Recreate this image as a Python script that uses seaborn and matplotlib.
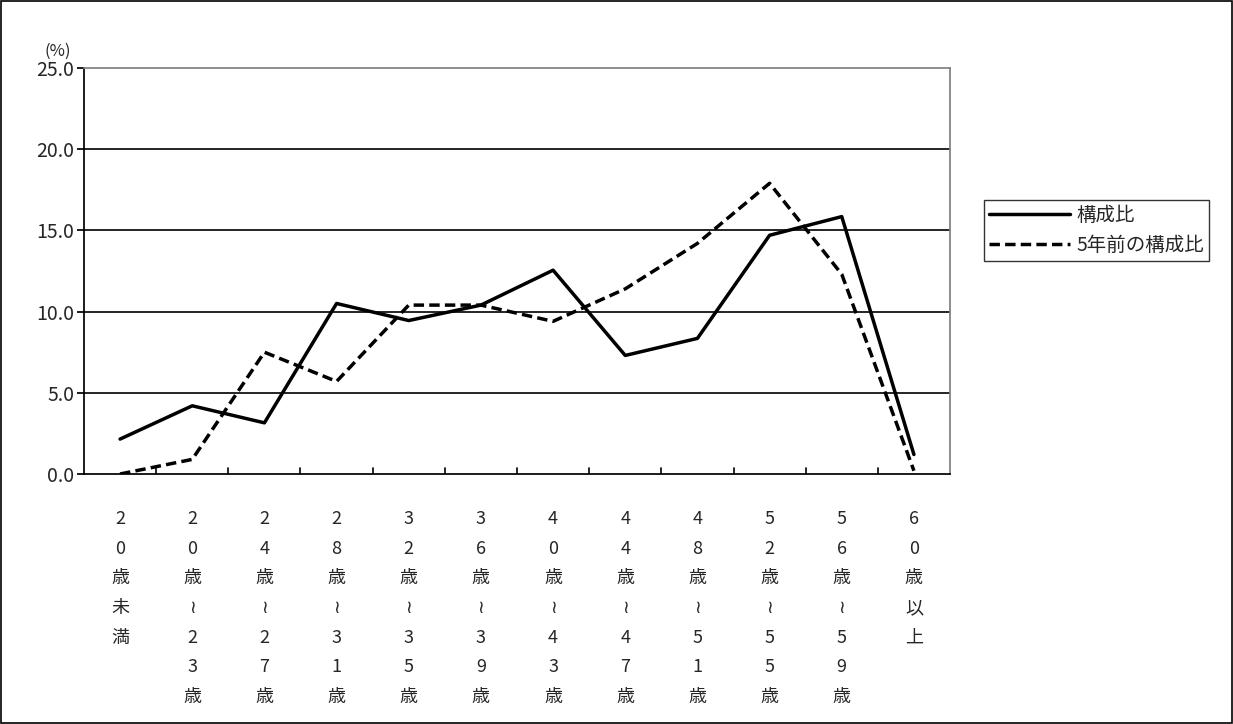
import matplotlib
matplotlib.use("Agg")
import matplotlib.pyplot as plt
import seaborn as sns
import pandas as pd

categories = ["20歳未満", "20歳〜23歳", "24歳〜27歳", "28歳〜31歳", "32歳〜35歳", "36歳〜39歳",
              "40歳〜43歳", "44歳〜47歳", "48歳〜51歳", "52歳〜55歳", "56歳〜59歳", "60歳以上"]
tick_labels = ["2\n0\n歳\n未\n満", "2\n0\n歳\n≀\n2\n3\n歳", "2\n4\n歳\n≀\n2\n7\n歳", "2\n8\n歳\n≀\n3\n1\n歳",
               "3\n2\n歳\n≀\n3\n5\n歳", "3\n6\n歳\n≀\n3\n9\n歳", "4\n0\n歳\n≀\n4\n3\n歳", "4\n4\n歳\n≀\n4\n7\n歳",
               "4\n8\n歳\n≀\n5\n1\n歳", "5\n2\n歳\n≀\n5\n5\n歳", "5\n6\n歳\n≀\n5\n9\n歳", "6\n0\n歳\n以\n上"]
current = [2.15, 4.2, 3.15, 10.5, 9.45, 10.4, 12.55, 7.3, 8.35, 14.7, 15.85, 1.2]
five_years_ago = [0.0, 0.9, 7.5, 5.7, 10.4, 10.4, 9.4, 11.4, 14.2, 17.9, 12.3, 0.2]

sns.set_theme(style="white")
plt.rcParams['font.family'] = ['Noto Sans CJK JP', 'DejaVu Sans']

df = pd.DataFrame({"x": list(range(len(categories))) * 2,
                   "value": current + five_years_ago,
                   "series": ["構成比"] * 12 + ["5年前の構成比"] * 12})

fig = plt.figure(figsize=(12.33, 7.24), dpi=100)
ax = fig.add_axes([84 / 1233, 1 - 474 / 724, 866 / 1233, 406 / 724])
sns.lineplot(data=df, x="x", y="value", hue="series", style="series",
             palette=["black", "black"], dashes=[(None, None), (3, 1.5)],
             linewidth=2.5, ax=ax, legend=True)

ax.set_xlim(-0.5, 11.5)
ax.set_ylim(0, 25)
ax.set_yticks([0, 5, 10, 15, 20, 25])
ax.set_yticklabels(["0.0", "5.0", "10.0", "15.0", "20.0", "25.0"], fontsize=14)
for v in [5, 10, 15, 20]:
    ax.axhline(v, color="black", lw=1.2, zorder=0)
ax.set_xticks(range(12))
ax.set_xticklabels(tick_labels, fontsize=13, linespacing=1.83, va="top")
ax.tick_params(axis="x", length=0, pad=26)
for k in range(1, 12):
    ax.plot([k - 0.5, k - 0.5], [0, 0.4], color="black", lw=1.2)
ax.tick_params(axis="y", left=True, length=5, color="black", pad=2)
for s in ["top", "right"]:
    ax.spines[s].set_color("gray")
for s in ["left", "bottom"]:
    ax.spines[s].set_color("black")
ax.set_xlabel("")
ax.set_ylabel("")
ax.text(-0.03, 1.02, "(%)", transform=ax.transAxes, fontsize=12, ha="center", va="bottom")

leg = ax.legend(loc="center left", bbox_to_anchor=(1.028, 0.6), frameon=True, fancybox=False,
                edgecolor="black", fontsize=14, handlelength=4.2, borderpad=0.25, labelspacing=0.45,
                handletextpad=0.3)
leg.get_frame().set_linewidth(1.0)

fig.patches.append(plt.Rectangle((0.001, 0.001), 0.998, 0.998, transform=fig.transFigure,
                                 fill=False, edgecolor="black", lw=1.2))
fig.savefig("out.png", dpi=100)
